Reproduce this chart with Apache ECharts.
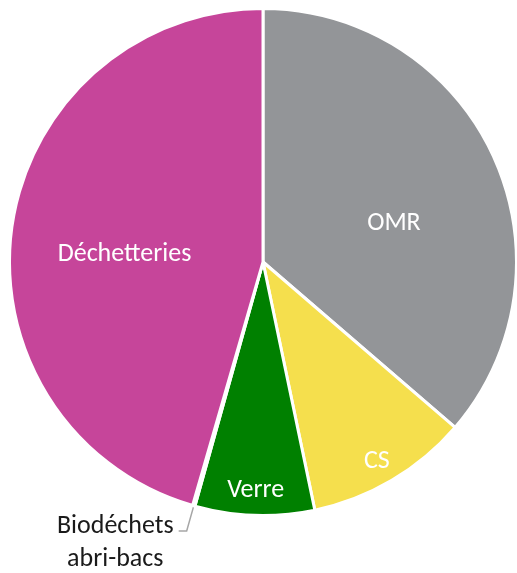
<!DOCTYPE html>
<html><head><meta charset="utf-8">
<script src="https://cdn.jsdelivr.net/npm/echarts@6/dist/echarts.min.js"></script>
<style>html,body{margin:0;padding:0;background:#fff}#c{width:517px;height:573px}</style>
</head><body><div id="c"></div>
<script>
const categories = ['OMR', 'CS', 'Verre', 'Biodéchets abri-bacs', 'Déchetteries'];
const values = [36.3, 10.4, 7.6, 0.15, 45.5];
const colors = ['#939598', '#f5df4d', '#008000', '#ffffff', '#c6459a'];
const labelColors = ['#ffffff', '#ffffff', '#ffffff', '#1a1a1a', '#ffffff'];
// fine label nudges (px) relative to library's inside-label position
const labelNudge = [[13, 16], [48, 88], [-3, 99], [0, 0], [-10, 11]];

const FONT = 'Carlito, Lato, "Open Sans", sans-serif';
const FS = 26;
const chart = echarts.init(document.getElementById('c'), null, {renderer: 'canvas'});
const data = categories.map((name, i) => {
  const outside = i === 3;
  return {
    name, value: values[i],
    itemStyle: {color: colors[i]},
    label: outside ? {
      position: 'outside', color: labelColors[i],
      formatter: p => p.name.split(' ').map(s => '{a|' + s + '}').join('\n'),
      rich: {a: {align: 'center', fontSize: FS, fontFamily: FONT, color: labelColors[i], lineHeight: 33}},
      padding: [24, 0, 0, 0]
    } : {position: 'inside', color: labelColors[i], fontSize: FS, fontFamily: FONT},
    labelLine: outside ? {show: true, length: 26, length2: 8, lineStyle: {color: '#a6a6a6', width: 1.5}} : {show: false}
  };
});
chart.setOption({
  animation: false,
  series: [{
    type: 'pie',
    center: [263, 262],
    radius: 253.5,
    startAngle: 90,
    clockwise: true,
    avoidLabelOverlap: false,
    itemStyle: {borderColor: '#ffffff', borderWidth: 3},
    label: {show: true, fontSize: FS, fontFamily: FONT, formatter: '{b}'},
    labelLayout: p => {
      const n = labelNudge[p.dataIndex];
      return (n[0] || n[1]) ? {dx: n[0], dy: n[1]} : {};
    },
    emphasis: {disabled: true},
    data
  }]
});
</script></body></html>
